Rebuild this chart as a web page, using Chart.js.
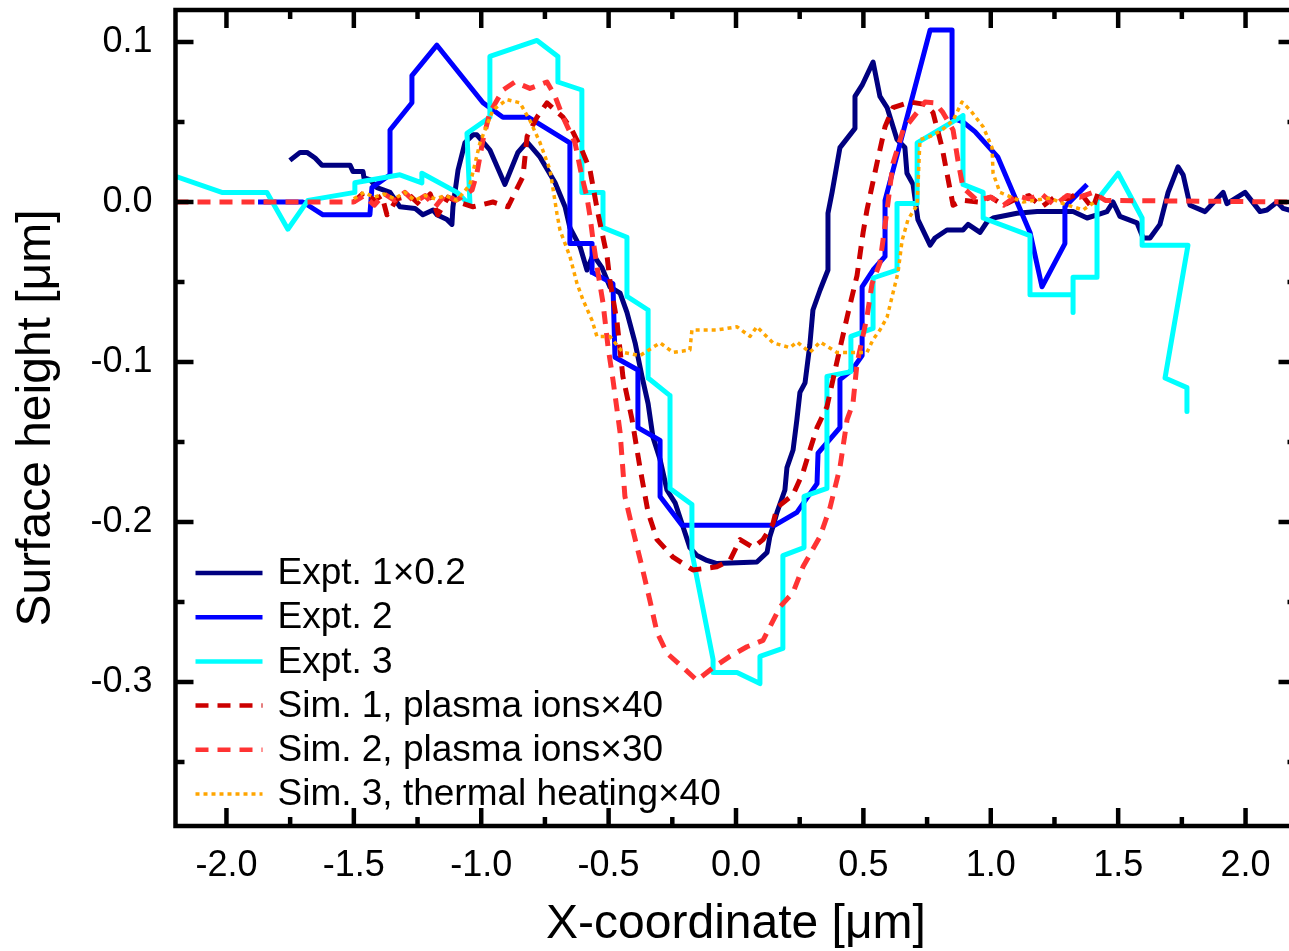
<!DOCTYPE html>
<html><head><meta charset="utf-8">
<script src="https://cdn.jsdelivr.net/npm/chart.js@4.4.1/dist/chart.umd.min.js"></script>
<style>html,body{margin:0;padding:0;overflow:hidden;background:#fff}canvas{display:block}</style>
</head><body>
<canvas id="c" width="1300" height="951"></canvas>
<script>
const xTicks = [-2.0,-1.5,-1.0,-0.5,0.0,0.5,1.0,1.5,2.0];
const yTicks = [-0.3,-0.2,-0.1,0.0,0.1];
const seriesNames = ['Expt. 1\u00d70.2','Expt. 2','Expt. 3','Sim. 1, plasma ions\u00d740','Sim. 2, plasma ions\u00d730','Sim. 3, thermal heating\u00d740'];

const expt1X = [-1.751,-1.711,-1.684,-1.652,-1.625,-1.515,-1.503,-1.464,-1.460,-1.437,-1.409,-1.358,-1.319,-1.260,-1.229,-1.189,-1.174,-1.134,-1.115,-1.111,-1.091,-1.064,-1.032,-1.017,-0.966,-0.907,-0.856,-0.820,-0.769,-0.710,-0.671,-0.652,-0.612,-0.585,-0.561,-0.526,-0.495,-0.455,-0.428,-0.396,-0.369,-0.345,-0.326,-0.298,-0.271,-0.239,-0.208,-0.181,-0.153,-0.114,-0.075,0.082,0.122,0.133,0.145,0.161,0.192,0.200,0.224,0.239,0.251,0.271,0.290,0.302,0.330,0.361,0.361,0.377,0.408,0.467,0.467,0.495,0.538,0.565,0.593,0.632,0.663,0.671,0.695,0.714,0.762,0.781,0.828,0.891,0.911,0.958,0.985,1.009,1.103,1.182,1.323,1.378,1.417,1.456,1.480,1.507,1.574,1.598,1.625,1.664,1.696,1.735,1.755,1.782,1.841,1.912,1.927,1.998,2.057,2.084,2.124,2.147,2.171,2.2];
const expt1Y = [0.026,0.031,0.031,0.0275,0.023,0.023,0.019,0.019,0.015,0.014,0.009,0.006,-0.003,-0.004,-0.008,-0.005,-0.008,-0.011,-0.014,-0.003,0.020,0.037,0.042,0.042,0.0325,0.011,0.031,0.0375,0.028,0.012,-0.003,-0.016,-0.028,-0.0425,-0.033,-0.041,-0.053,-0.057,-0.069,-0.088,-0.109,-0.126,-0.147,-0.161,-0.180,-0.188,-0.203,-0.216,-0.221,-0.224,-0.226,-0.225,-0.219,-0.209,-0.203,-0.194,-0.180,-0.166,-0.155,-0.136,-0.119,-0.113,-0.089,-0.0675,-0.055,-0.0425,-0.007,0.006,0.034,0.046,0.066,0.073,0.0875,0.066,0.059,0.039,0.034,0.018,0.011,-0.011,-0.027,-0.0225,-0.0175,-0.0175,-0.014,-0.019,-0.0125,-0.010,-0.007,-0.006,-0.006,-0.010,-0.008,-0.006,0.000,-0.009,-0.013,-0.0225,-0.0225,-0.014,0.006,0.022,0.017,-0.002,-0.006,0.006,-0.001,0.006,-0.006,-0.005,0.000,-0.004,-0.005,-0.005];

const expt2X = [-1.876,-1.700,-1.621,-1.437,-1.429,-1.358,-1.358,-1.272,-1.272,-1.174,-0.993,-0.915,-0.816,-0.652,-0.652,-0.565,-0.565,-0.483,-0.475,-0.385,-0.385,-0.298,-0.298,-0.212,0.153,0.239,0.318,0.322,0.408,0.408,0.455,0.495,0.495,0.538,0.585,0.585,0.762,0.848,0.848,0.891,0.938,1.028,1.154,1.201,1.291,1.291,1.378];
const expt2Y = [0,0,-0.008,-0.008,0.009,0.017,0.045,0.062,0.079,0.098,0.062,0.053,0.053,0.037,-0.026,-0.026,-0.044,-0.051,-0.097,-0.105,-0.141,-0.149,-0.184,-0.202,-0.202,-0.194,-0.176,-0.157,-0.141,-0.111,-0.105,-0.096,-0.053,-0.0425,-0.034,0.001,0.1075,0.1075,0.0525,0.050,0.044,0.028,-0.019,-0.053,-0.026,-0.003,0.011];

const expt3X = [-2.2,-2.018,-1.841,-1.759,-1.680,-1.496,-1.496,-1.319,-1.233,-1.233,-1.095,-1.044,-1.056,-0.966,-0.966,-0.781,-0.699,-0.699,-0.605,-0.605,-0.522,-0.522,-0.428,-0.428,-0.345,-0.345,-0.259,-0.259,-0.173,-0.173,-0.090,-0.090,0.004,0.094,0.094,0.184,0.184,0.267,0.267,0.357,0.357,0.451,0.451,0.538,0.538,0.632,0.632,0.711,0.711,0.891,0.891,0.970,0.970,1.154,1.154,1.323,1.323,1.323,1.417,1.417,1.500,1.594,1.594,1.774,1.684,1.770,1.770];
const expt3Y = [0.016,0.006,0.006,-0.017,0.001,0.006,0.012,0.017,0.012,0.018,0.006,-0.002,0.043,0.053,0.091,0.101,0.091,0.075,0.070,0.006,0.006,-0.016,-0.022,-0.059,-0.0675,-0.110,-0.121,-0.179,-0.189,-0.219,-0.286,-0.294,-0.294,-0.301,-0.284,-0.279,-0.221,-0.216,-0.184,-0.179,-0.109,-0.106,-0.084,-0.079,-0.0475,-0.0425,-0.001,-0.001,0.037,0.054,0.011,0.006,-0.010,-0.021,-0.058,-0.058,-0.069,-0.047,-0.047,0.001,0.018,-0.010,-0.027,-0.027,-0.110,-0.116,-0.131];

const sim1X = [-1.50,-1.46,-1.42,-1.39,-1.37,-1.33,-1.28,-1.24,-1.20,-1.17,-1.13,-1.09,-1.032,-0.954,-0.895,-0.836,-0.820,-0.781,-0.742,-0.679,-0.644,-0.605,-0.573,-0.542,-0.506,-0.495,-0.467,-0.444,-0.408,-0.377,-0.345,-0.310,-0.247,-0.169,-0.075,-0.024,0.016,0.067,0.106,0.145,0.161,0.224,0.263,0.290,0.318,0.357,0.396,0.436,0.475,0.499,0.514,0.553,0.585,0.616,0.683,0.742,0.773,0.809,0.828,0.852,0.891,0.95,1.00,1.05,1.10,1.15,1.20,1.25,1.30,1.35,1.40,1.42];
const sim1Y = [0.000,0.006,0.001,0.004,-0.008,0.002,0.004,-0.002,0.005,-0.008,0.003,0.000,-0.003,0.000,-0.003,0.016,0.041,0.053,0.062,0.053,0.045,0.0325,0.020,-0.007,-0.034,-0.049,-0.075,-0.109,-0.136,-0.166,-0.194,-0.211,-0.222,-0.230,-0.228,-0.224,-0.211,-0.216,-0.211,-0.201,-0.191,-0.183,-0.169,-0.155,-0.141,-0.128,-0.100,-0.072,-0.046,-0.019,-0.005,0.024,0.047,0.059,0.0625,0.061,0.056,0.034,0.018,-0.002,0.001,0.000,0.003,-0.002,0.002,0.004,-0.003,0.003,0.002,0.006,-0.004,0.005];

const sim2X = [-2.2,-1.50,-1.46,-1.42,-1.38,-1.34,-1.30,-1.26,-1.22,-1.18,-1.14,-1.10,-1.083,-1.036,-1.017,-0.993,-0.966,-0.915,-0.868,-0.809,-0.742,-0.710,-0.679,-0.632,-0.605,-0.585,-0.573,-0.561,-0.542,-0.522,-0.502,-0.483,-0.455,-0.436,-0.408,-0.369,-0.338,-0.310,-0.271,-0.208,-0.153,-0.090,-0.024,0.043,0.106,0.173,0.224,0.263,0.330,0.369,0.408,0.436,0.459,0.475,0.514,0.534,0.565,0.593,0.616,0.656,0.711,0.742,0.781,0.812,0.852,0.871,0.891,0.946,1.00,1.05,1.10,1.15,1.20,1.25,1.30,1.35,1.40,1.45,2.2];
const sim2Y = [0,0,0.004,-0.002,0.005,0.001,0.006,0.000,0.004,-0.003,0.005,0.001,0.0025,0.0075,0.018,0.039,0.056,0.070,0.075,0.071,0.075,0.066,0.053,0.037,0.016,0.003,-0.009,-0.024,-0.044,-0.063,-0.091,-0.111,-0.144,-0.184,-0.203,-0.228,-0.249,-0.269,-0.282,-0.291,-0.299,-0.291,-0.284,-0.278,-0.274,-0.253,-0.244,-0.228,-0.209,-0.191,-0.166,-0.136,-0.126,-0.101,-0.072,-0.051,-0.038,-0.005,0.024,0.045,0.056,0.0625,0.062,0.056,0.045,0.026,0.009,0.001,0.003,-0.002,0.004,0.002,0.005,-0.002,0.004,0.003,0.006,0.001,0];

const sim3X = [-1.50,-1.46,-1.42,-1.38,-1.34,-1.30,-1.26,-1.22,-1.18,-1.14,-1.095,-1.044,-1.005,-0.954,-0.899,-0.848,-0.809,-0.769,-0.730,-0.703,-0.691,-0.652,-0.624,-0.601,-0.565,-0.546,-0.495,-0.444,-0.377,-0.298,-0.247,-0.181,-0.173,-0.075,0.004,0.055,0.082,0.145,0.212,0.239,0.290,0.330,0.396,0.447,0.514,0.538,0.565,0.593,0.616,0.636,0.652,0.675,0.711,0.722,0.762,0.809,0.852,0.887,0.919,0.970,1.005,1.009,1.036,1.127,1.233,1.284,1.362,1.417];
const sim3Y = [0.002,0.006,0.003,0.005,0.002,0.006,0.001,0.004,0.002,0.004,0.001,0.011,0.037,0.0575,0.064,0.062,0.051,0.037,0.020,-0.007,-0.0175,-0.034,-0.051,-0.061,-0.074,-0.084,-0.084,-0.094,-0.096,-0.088,-0.094,-0.0925,-0.080,-0.080,-0.078,-0.084,-0.078,-0.088,-0.091,-0.0875,-0.094,-0.0875,-0.094,-0.094,-0.094,-0.086,-0.080,-0.072,-0.057,-0.044,-0.024,-0.011,-0.002,0.039,0.041,0.045,0.051,0.0625,0.0575,0.047,0.034,0.018,0.006,0.000,0.0025,-0.001,-0.005,0.001];

Chart.defaults.font.family = "'Liberation Sans', Arial, Helvetica, sans-serif";
Chart.defaults.color = '#000';

const styles = [
  {color:'#000080', width:5, dash:[]},
  {color:'#0000ff', width:5, dash:[]},
  {color:'#00ffff', width:5, dash:[]},
  {color:'#cc0000', width:5, dash:[13,9]},
  {color:'#ff3333', width:5, dash:[13,9]},
  {color:'#ffa500', width:3.5, dash:[4,4]}
];
const xs = [expt1X, expt2X, expt3X, sim1X, sim2X, sim3X];
const ys = [expt1Y, expt2Y, expt3Y, sim1Y, sim2Y, sim3Y];

const datasets = seriesNames.map((name,k)=>({
  label: name,
  data: xs[k].map((v,i)=>({x:v, y:ys[k][i]})),
  borderColor: styles[k].color,
  borderWidth: styles[k].width,
  borderDash: styles[k].dash,
  borderJoinStyle: 'round',
  pointRadius: 0,
  fill: false,
  tension: 0,
  order: 6 - k
}));

const framePlugin = {
  id: 'frame',
  afterDatasetsDraw(chart) {
    const {ctx, chartArea:a, scales:{x, y}} = chart;
    ctx.save();
    ctx.strokeStyle = '#000';
    ctx.lineCap = 'butt';
    ctx.lineWidth = 4.5;
    const seg = (x1,y1,x2,y2)=>{ctx.beginPath();ctx.moveTo(x1,y1);ctx.lineTo(x2,y2);ctx.stroke();};
    for (let i=-8;i<=8;i++){
      const px = x.getPixelForValue(i*0.25);
      const L = (i%2===0) ? 18 : 9;
      seg(px, a.bottom, px, a.bottom - L);
      seg(px, a.top, px, a.top + L);
    }
    for (let i=-7;i<=2;i++){
      const py = y.getPixelForValue(i*0.05);
      const L = (i%2===0) ? 18 : 9;
      seg(a.left, py, a.left + L, py);
      seg(a.right, py, a.right - L, py);
    }
    ctx.lineWidth = 4.5;
    ctx.strokeRect(a.left, a.top, a.right - a.left, a.bottom - a.top);
    // legend
    ctx.font = "37px 'Liberation Sans', Arial, sans-serif";
    ctx.textBaseline = 'middle';
    ctx.textAlign = 'left';
    ctx.fillStyle = '#000';
    const y0 = 573, dy = 44.2;
    seriesNames.forEach((name,k)=>{
      const yy = y0 + k*dy;
      ctx.strokeStyle = styles[k].color;
      ctx.lineWidth = Math.min(styles[k].width, 4.5);
      ctx.setLineDash(styles[k].dash);
      seg(a.left + 20, yy, a.left + 87, yy);
      ctx.setLineDash([]);
      ctx.fillText(name, a.left + 102, yy + 1);
    });
    ctx.restore();
  }
};

new Chart(document.getElementById('c'), {
  type: 'line',
  data: { datasets },
  options: {
    responsive: false,
    animation: false,
    devicePixelRatio: 1,
    layout: { padding: { top: 10, right: 3.5, left: 0, bottom: 0 } },
    plugins: { legend: { display: false }, tooltip: { enabled: false } },
    scales: {
      x: {
        type: 'linear', min: -2.2, max: 2.2,
        afterBuildTicks: s => { s.ticks = xTicks.map(v => ({value: v})); },
        afterFit: s => { s.height = 125; s.paddingLeft = 0; s.paddingRight = 0; },
        ticks: { callback: v => Number(v).toFixed(1), padding: 18, font: { size: 36 }, color: '#000', maxRotation: 0, autoSkip: false },
        grid: { display: false, drawTicks: false },
        border: { display: false },
        title: { display: true, text: 'X-coordinate [\u03bcm]', font: { size: 48, lineHeight: 1 }, color: '#000', padding: { top: 0, bottom: 2 } }
      },
      y: {
        type: 'linear', min: -0.39, max: 0.12,
        afterBuildTicks: s => { s.ticks = yTicks.map(v => ({value: v})); },
        afterFit: s => { s.width = 175.5; s.paddingTop = 0; s.paddingBottom = 0; },
        ticks: { callback: v => Number(v).toFixed(1), padding: 23, font: { size: 36 }, color: '#000', autoSkip: false },
        grid: { display: false, drawTicks: false },
        border: { display: false },
        title: { display: true, text: 'Surface height [\u03bcm]', font: { size: 48, lineHeight: 1 }, color: '#000', padding: { top: 13, bottom: 0 } }
      }
    }
  },
  plugins: [framePlugin]
});
</script>
</body></html>
